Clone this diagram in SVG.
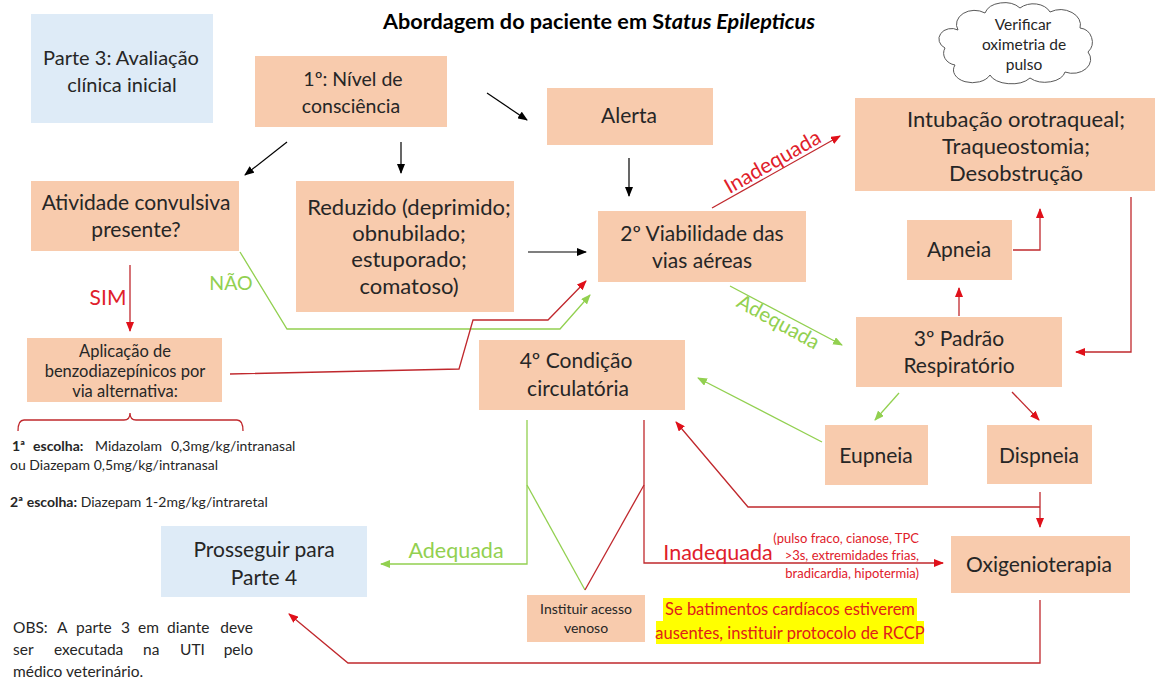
<svg xmlns="http://www.w3.org/2000/svg" width="1176" height="679" viewBox="0 0 1176 679">
  <style>
    text { font-family: "Lato", "Open Sans", "Liberation Sans", sans-serif; fill: #262626; }
    .box { fill: #F8CBAD; }
    .info { fill: #DEEBF7; }
    .t21 { font-size: 21px; text-anchor: middle; }
    .t22 { font-size: 22px; text-anchor: middle; }
    .t20 { font-size: 20px; text-anchor: middle; }
    .blk { stroke: #000; stroke-width: 1.2; fill: none; marker-end: url(#ah-blk); }
    .red { stroke: #C0282D; stroke-width: 1.3; fill: none; }
    .redA { stroke: #C0282D; stroke-width: 1.3; fill: none; marker-end: url(#ah-red); }
    .grn { stroke: #92D050; stroke-width: 1.3; fill: none; }
    .grnA { stroke: #92D050; stroke-width: 1.3; fill: none; marker-end: url(#ah-grn); }
    .lblR { fill: #E0202A; }
    .lblG { fill: #92D050; }
    .small { font-size: 14px; }
    .obs { font-size: 15.5px; }
  </style>
  <defs>
    <marker id="ah-blk" markerWidth="10" markerHeight="8" refX="9" refY="4" orient="auto" markerUnits="userSpaceOnUse">
      <path d="M0,0 L10,4 L0,8 Z" fill="#000"/>
    </marker>
    <marker id="ah-red" markerWidth="10" markerHeight="8" refX="9" refY="4" orient="auto" markerUnits="userSpaceOnUse">
      <path d="M0,0 L10,4 L0,8 Z" fill="#E0101A"/>
    </marker>
    <marker id="ah-grn" markerWidth="10" markerHeight="8" refX="9" refY="4" orient="auto" markerUnits="userSpaceOnUse">
      <path d="M0,0 L10,4 L0,8 Z" fill="#92D050"/>
    </marker>
  </defs>

  <rect width="1176" height="679" fill="#fff"/>

  <!-- title -->
  <text x="383" y="29" textLength="432" lengthAdjust="spacingAndGlyphs" style="font-size:21px;font-weight:bold;fill:#000">Abordagem do paciente em S<tspan font-style="italic">tatus Epilepticus</tspan></text>

  <!-- connectors -->
  <g id="connectors">
    <!-- level of consciousness branches -->
    <line class="blk" x1="487" y1="93" x2="527" y2="120"/>
    <line class="blk" x1="287" y1="142" x2="245" y2="175"/>
    <line class="blk" x1="401" y1="142" x2="401" y2="173"/>
    <line class="blk" x1="629" y1="158" x2="629" y2="196"/>
    <line class="blk" x1="528" y1="252" x2="586" y2="252"/>

    <!-- convulsive activity -->
    <line class="redA" x1="130" y1="265" x2="130" y2="331"/>
    <path class="grnA" d="M240,252 L287,329 L560,329 L590,295"/>
    <path class="redA" d="M230,374 L459,369 L473,320 L548,320 L586,281"/>

    <!-- airway outcomes -->
    <line class="redA" x1="712" y1="208" x2="840" y2="136"/>
    <line class="grnA" x1="730" y1="286" x2="842" y2="345"/>

    <!-- respiratory pattern -->
    <path class="redA" d="M1131,197 L1131,352 L1076,352"/>
    <line class="redA" x1="959" y1="316" x2="959" y2="288"/>
    <path class="redA" d="M1013,250 L1040,250 L1040,209"/>
    <line class="grnA" x1="899" y1="393" x2="875" y2="420"/>
    <line class="redA" x1="1012" y1="392" x2="1039" y2="420"/>
    <line class="grnA" x1="822" y1="442" x2="698" y2="378"/>

    <!-- dyspnea to oxygen therapy and circulation -->
    <line class="redA" x1="1040" y1="492" x2="1040" y2="527"/>
    <path class="redA" d="M1040,507 L748,507 L676,422"/>

    <!-- circulation outcomes -->
    <path class="grnA" d="M527,420 L527,564 L381,564"/>
    <path class="grn" d="M527,485 L585,590"/>
    <path class="red" d="M585,590 L644,485"/>
    <path class="redA" d="M644,420 L644,563 L943,563"/>

    <!-- oxygen therapy to part 4 -->
    <path class="redA" d="M1040,600 L1040,663 L348,663 L289,614"/>

    <!-- bracket under benzodiazepine box -->
    <path class="red" d="M18,431 Q18,420 24,420 L124,420 Q130,420 130,413 Q130,420 136,420 L237,420 Q243,420 243,431"/>
  </g>

  <!-- connector labels -->
  <text class="lblR" x="108" y="305" style="font-size:21px;text-anchor:middle">SIM</text>
  <text class="lblG" x="231" y="290" style="font-size:19.5px;text-anchor:middle">NÃO</text>
  <text class="lblR" x="776" y="168" transform="rotate(-29.5 776 168)" style="font-size:21px;text-anchor:middle">Inadequada</text>
  <text class="lblG" x="775" y="328" transform="rotate(29 775 328)" style="font-size:20.5px;text-anchor:middle">Adequada</text>
  <text class="lblG" x="456" y="558" style="font-size:21.5px;text-anchor:middle">Adequada</text>
  <text class="lblR" x="718" y="560" style="font-size:21.5px;text-anchor:middle">Inadequada</text>
  <text class="lblR" x="919" y="543" style="font-size:13px;text-anchor:end">(pulso fraco, cianose, TPC</text>
  <text class="lblR" x="919" y="560" style="font-size:13px;text-anchor:end">&gt;3s, extremidades frias,</text>
  <text class="lblR" x="919" y="578" style="font-size:13px;text-anchor:end">bradicardia, hipotermia)</text>

  <!-- nodes -->
  <g id="part3">
    <rect class="info" x="31" y="14" width="182" height="109"/>
    <text class="t20" x="121" y="65">Parte 3: Avaliação</text>
    <text class="t20" x="122" y="92">clínica inicial</text>
  </g>

  <g id="consciousness">
    <rect class="box" x="255" y="56" width="192" height="71"/>
    <text style="font-size:19.5px;text-anchor:middle" x="353" y="86">1º: Nível de</text>
    <text style="font-size:19.5px;text-anchor:middle" x="351" y="113">consciência</text>
  </g>

  <g id="alert">
    <rect class="box" x="547" y="88" width="166" height="57"/>
    <text class="t21" x="629" y="123">Alerta</text>
  </g>

  <g id="convulsive">
    <rect class="box" x="31" y="181" width="208" height="70"/>
    <text class="t21" x="136" y="210">Atividade convulsiva</text>
    <text class="t21" x="136" y="237">presente?</text>
  </g>

  <g id="reduced">
    <rect class="box" x="296" y="181" width="218" height="131"/>
    <text class="t22" x="409" y="215">Reduzido (deprimido;</text>
    <text class="t22" x="409" y="241">obnubilado;</text>
    <text class="t22" x="409" y="267">estuporado;</text>
    <text class="t22" x="409" y="294">comatoso)</text>
  </g>

  <g id="airway">
    <rect class="box" x="598" y="211" width="208" height="71"/>
    <text class="t21" x="702" y="241">2º Viabilidade das</text>
    <text class="t21" x="702" y="268">vias aéreas</text>
  </g>

  <g id="intubation">
    <rect class="box" x="855" y="98" width="300" height="93"/>
    <text class="t22" x="1016" y="127">Intubação orotraqueal;</text>
    <text class="t22" x="1016" y="154">Traqueostomia;</text>
    <text class="t22" x="1016" y="181">Desobstrução</text>
  </g>

  <g id="pulse-oximetry">
    <path d="M958,30 A18,14 0 0 1 985,13 A20,14 0 0 1 1020,8 A18,13 0 0 1 1050,12 A20,15 0 0 1 1080,28 A14,14 0 0 1 1088,52 A18,14 0 0 1 1065,72 A20,12 0 0 1 1030,78 A22,12 0 0 1 990,75 A18,12 0 0 1 955,65 A14,12 0 0 1 945,48 A12,10 0 0 1 958,30 Z" fill="#fff" stroke="#595959" stroke-width="1"/>
    <text style="font-size:15.5px;text-anchor:middle" x="1023" y="30">Verificar</text>
    <text style="font-size:15.5px;text-anchor:middle" x="1024" y="50">oximetria de</text>
    <text style="font-size:15.5px;text-anchor:middle" x="1024" y="70">pulso</text>
  </g>

  <g id="apnea">
    <rect class="box" x="907" y="220" width="105" height="60"/>
    <text class="t21" x="959" y="257">Apneia</text>
  </g>

  <g id="respiratory">
    <rect class="box" x="856" y="317" width="206" height="70"/>
    <text class="t21" x="959" y="346">3º Padrão</text>
    <text class="t21" x="959" y="373">Respiratório</text>
  </g>

  <g id="circulatory">
    <rect class="box" x="479" y="340" width="206" height="70"/>
    <text class="t21" x="576" y="368">4º Condição</text>
    <text class="t21" x="578" y="396">circulatória</text>
  </g>

  <g id="eupnea">
    <rect class="box" x="825" y="425" width="103" height="60"/>
    <text class="t21" x="876" y="463">Eupneia</text>
  </g>

  <g id="dyspnea">
    <rect class="box" x="987" y="425" width="105" height="59"/>
    <text class="t21" x="1039" y="463">Dispneia</text>
  </g>

  <g id="oxygen">
    <rect class="box" x="951" y="536" width="179" height="57"/>
    <text class="t21" x="1039" y="572">Oxigenioterapia</text>
  </g>

  <g id="benzodiazepines">
    <rect class="box" x="27" y="338" width="195" height="64"/>
    <text style="font-size:16.5px;text-anchor:middle" x="125" y="357">Aplicação de</text>
    <text style="font-size:16.5px;text-anchor:middle" x="125" y="377">benzodiazepínicos por</text>
    <text style="font-size:16.5px;text-anchor:middle" x="125" y="397">via alternativa:</text>
  </g>

  <g id="part4">
    <rect class="info" x="161" y="526" width="206" height="71"/>
    <text class="t21" x="264" y="557">Prosseguir para</text>
    <text class="t21" x="264" y="585">Parte 4</text>
  </g>

  <g id="venous-access">
    <rect class="box" x="527" y="595" width="118" height="47"/>
    <text x="586" y="614" style="font-size:14px;text-anchor:middle">Instituir acesso</text>
    <text x="586" y="633" style="font-size:14px;text-anchor:middle">venoso</text>
  </g>

  <!-- dosage notes -->
  <text class="small" x="12" y="451"><tspan font-weight="bold">1ª</tspan><tspan x="33" font-weight="bold">escolha:</tspan><tspan x="95">Midazolam</tspan><tspan x="171">0,3mg/kg/intranasal</tspan></text>
  <text class="small" x="10" y="470">ou Diazepam 0,5mg/kg/intranasal</text>
  <text class="small" x="10" y="507"><tspan font-weight="bold">2ª escolha:</tspan> Diazepam 1-2mg/kg/intraretal</text>

  <!-- cardiac arrest warning -->
  <rect x="663" y="598" width="254" height="23" fill="#FFFF00"/>
  <rect x="656" y="621" width="268" height="23" fill="#FFFF00"/>
  <text x="790" y="615" style="font-size:16.5px;text-anchor:middle;fill:#E0201A">Se batimentos cardíacos estiverem</text>
  <text x="790" y="639" style="font-size:16.5px;text-anchor:middle;fill:#E0201A">ausentes, instituir protocolo de RCCP</text>

  <!-- note (justified by hand) -->
  <text class="obs" y="633"><tspan x="13">OBS:</tspan><tspan x="57">A</tspan><tspan x="76">parte</tspan><tspan x="121">3</tspan><tspan x="138">em</tspan><tspan x="167">diante</tspan><tspan x="253" text-anchor="end">deve</tspan></text>
  <text class="obs" y="655"><tspan x="13">ser</tspan><tspan x="54">executada</tspan><tspan x="143">na</tspan><tspan x="180">UTI</tspan><tspan x="253" text-anchor="end">pelo</tspan></text>
  <text class="obs" x="13" y="677">médico veterinário.</text>
</svg>
